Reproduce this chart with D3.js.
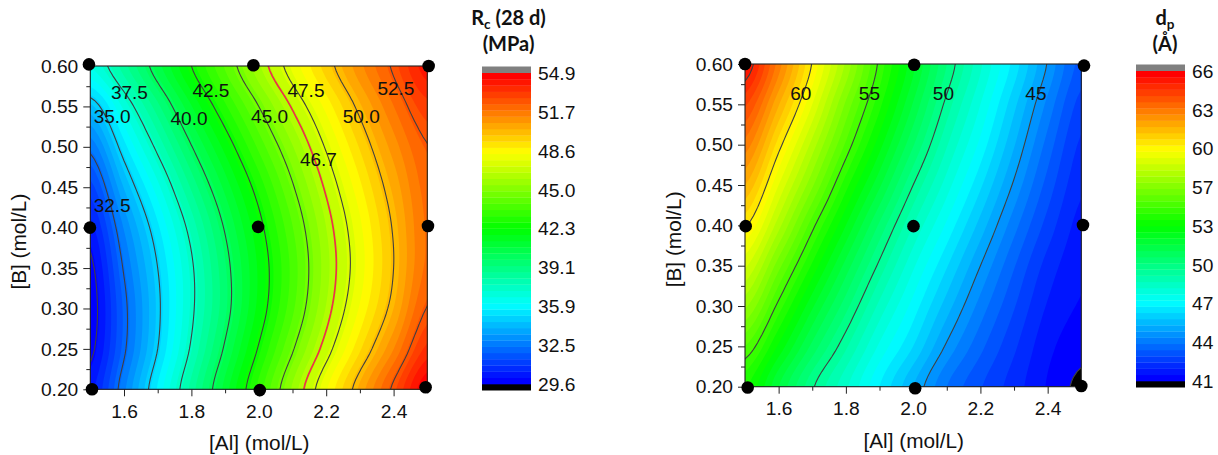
<!DOCTYPE html>
<html>
<head>
<meta charset="utf-8">
<title>Contour maps of Rc and dp</title>
<script src="https://cdn.jsdelivr.net/npm/d3@7"></script>
<style>
  html, body { margin: 0; padding: 0; background: #fff; }
  svg { display: block; }
  text { font-family: "Liberation Sans", Arial, sans-serif; fill: #111; }
  .tick-label text, .bar-label { font-size: 19.2px; }
  .axis-title { font-size: 20.8px; text-anchor: middle; }
  .bar-title { font-family: Lato, "Open Sans", sans-serif; font-weight: 700; font-size: 20px; text-anchor: middle; }
  .contour-label { font-size: 19px; text-anchor: middle; }
</style>
</head>
<body>
<svg id="chart" width="1218" height="455"></svg>
<script>
// Grid axes shared by both maps
const alValues = [1.5, 1.6, 1.7, 1.8, 1.9, 2.0, 2.1, 2.2, 2.3, 2.4, 2.5];
const bValues = [0.6, 0.55, 0.5, 0.45, 0.4, 0.35, 0.3, 0.25, 0.2];
const alTicks = [1.6, 1.8, 2.0, 2.2, 2.4];
const alMinorTicks = [1.5, 1.7, 1.9, 2.1, 2.3, 2.5];
const bTicks = [0.2, 0.25, 0.3, 0.35, 0.4, 0.45, 0.5, 0.55, 0.6];
const bMinorTicks = [0.225, 0.275, 0.325, 0.375, 0.425, 0.475, 0.525, 0.575];

// Rc (28 d), one row per B value (top of the map first)
const rcGrid = [
  [36.7, 38.5, 40.5, 42.5, 44.35, 46.2, 47.95, 49.6, 51.2, 52.65, 54.2],
  [34.5, 36.85, 39.05, 41.2, 43.15, 45.0, 46.8, 48.5, 50.25, 51.85, 53.2],
  [32.75, 35.45, 37.75, 39.95, 41.95, 43.9, 45.75, 47.6, 49.4, 51.1, 52.45],
  [31.4, 34.2, 36.5, 38.8, 40.9, 42.9, 44.9, 46.85, 48.7, 50.5, 52.1],
  [30.4, 33.2, 35.55, 37.85, 40.1, 42.2, 44.25, 46.3, 48.2, 50.1, 51.95],
  [29.8, 32.6, 35.0, 37.35, 39.65, 41.85, 43.95, 46.1, 48.05, 50.0, 52.0],
  [29.6, 32.25, 34.8, 37.3, 39.6, 41.95, 44.15, 46.35, 48.4, 50.35, 52.55],
  [29.8, 32.35, 35.0, 37.65, 40.15, 42.6, 44.9, 47.1, 49.25, 51.35, 53.55],
  [30.4, 33.0, 35.75, 38.4, 40.95, 43.45, 45.9, 48.25, 50.5, 52.7, 54.9]
];
const rcLines = [30, 32.5, 35, 37.5, 40, 42.5, 45, 47.5, 50, 52.5];
const rcRedLine = [46.7];
const rcBarLabels = ["54.9", "51.7", "48.6", "45.0", "42.3", "39.1", "35.9", "32.5", "29.6"];
const rcLabelText = ["37.5", "42.5", "47.5", "52.5", "35.0", "40.0", "45.0", "50.0", "46.7", "32.5"];
const rcLabelAl = [1.616, 1.858, 2.14, 2.407, 1.565, 1.793, 2.032, 2.304, 2.177, 1.565];
const rcLabelB = [0.568, 0.57, 0.57, 0.573, 0.538, 0.535, 0.538, 0.538, 0.485, 0.428];
const rcPointAl = [1.496, 1.984, 2.504, 1.499, 1.998, 2.502, 1.505, 2.003, 2.495];
const rcPointB = [0.602, 0.601, 0.6, 0.4, 0.401, 0.402, 0.2, 0.199, 0.2025];

// dp, same layout
const dpGrid = [
  [65.5, 62.75, 59.95, 57.4, 54.85, 52.65, 50.5, 48.6, 46.8, 44.95, 43.3],
  [64.1, 61.55, 59.0, 56.4, 54.15, 51.95, 49.8, 48.0, 46.15, 44.35, 42.8],
  [62.8, 60.25, 57.8, 55.4, 53.2, 51.05, 49.05, 47.35, 45.55, 43.8, 42.4],
  [61.5, 59.0, 56.6, 54.2, 52.1, 50.0, 48.25, 46.6, 44.9, 43.3, 42.1],
  [60.1, 57.7, 55.2, 53.0, 50.9, 49.0, 47.4, 45.8, 44.2, 42.8, 41.8],
  [58.6, 56.2, 53.9, 51.8, 49.85, 48.1, 46.55, 45.0, 43.55, 42.3, 41.6],
  [57.1, 54.8, 52.6, 50.7, 48.85, 47.3, 45.75, 44.3, 43.05, 41.95, 41.45],
  [55.5, 53.4, 51.35, 49.6, 47.9, 46.5, 44.9, 43.65, 42.6, 41.65, 41.2],
  [54.1, 52.0, 50.1, 48.6, 47.0, 45.5, 44.0, 43.05, 42.25, 41.45, 40.85]
];
const dpLines = [41, 45, 50, 55, 60, 65];
const dpBarLabels = ["66", "63", "60", "57", "53", "50", "47", "44", "41"];
const dpLabelText = ["60", "55", "50", "45"];
const dpLabelAl = [1.666, 1.87, 2.09, 2.365];
const dpLabelB = [0.564, 0.564, 0.564, 0.564];
const dpPointAl = [1.5, 2.003, 2.508, 1.502, 2.001, 2.505, 1.508, 2.006, 2.5];
const dpPointB = [0.6, 0.599, 0.598, 0.399, 0.399, 0.4004, 0.199, 0.198, 0.2008];

const BAND_COUNT = 50;
const SMOOTH_STEPS = 8;
const rainbow = d3.scaleLinear()
  .domain([0, 0.25, 0.5, 0.75, 1])
  .range(["#0000ff", "#00ffff", "#00ff00", "#ffff00", "#ff0000"]);

const svg = d3.select("#chart");

function catmull(p0, p1, p2, p3, t) {
  return 0.5 * (2 * p1 + (p2 - p0) * t + (2 * p0 - 5 * p1 + 4 * p2 - p3) * t * t + (3 * p1 - p0 - 3 * p2 + p3) * t * t * t);
}

// Catmull-Rom resampling of the read grid, only so the drawn contours are not kinked
function resample(values, k) {
  const last = values.length - 1;
  const out = [];
  for (let i = 0; i < last; i++) {
    const p0 = values[Math.max(i - 1, 0)];
    const p3 = values[Math.min(i + 2, last)];
    for (let s = 0; s < k; s++) out.push(catmull(p0, values[i], values[i + 1], p3, s / k));
  }
  out.push(values[last]);
  return out;
}

function refineGrid(grid, k) {
  const byRow = grid.map((row) => resample(row, k));
  const columns = d3.transpose(byRow).map((col) => resample(col, k));
  return d3.transpose(columns);
}

// Draws one contour map together with its colour bar
function drawMap(cfg) {
  const { frame, bar, min, max } = cfg;
  const step = (max - min) / BAND_COUNT;
  const bands = d3.range(BAND_COUNT).map((i) => ({
    low: min + i * step,
    high: min + (i + 1) * step,
    color: rainbow(i / (BAND_COUNT - 1))
  }));

  const x = d3.scaleLinear().domain([1.5, 2.5]).range([frame.left, frame.right]);
  const y = d3.scaleLinear().domain([0.2, 0.6]).range([frame.bottom, frame.top]);

  const grid = refineGrid(cfg.grid, SMOOTH_STEPS);
  const rows = grid.length;
  const cols = grid[0].length;

  // d3.contours puts grid values on cell centres, hence the half cell
  const gridX = d3.scaleLinear().domain([0.5, cols - 0.5]).range([x(alValues[0]), x(alValues[alValues.length - 1])]);
  const gridY = d3.scaleLinear().domain([0.5, rows - 0.5]).range([y(bValues[0]), y(bValues[bValues.length - 1])]);
  const path = d3.geoPath(d3.geoTransform({
    point(px, py) { this.stream.point(gridX(px), gridY(py)); }
  }));
  const contours = d3.contours().size([cols, rows]).smooth(true);
  const flat = grid.flat();

  const clipId = `clip-${cfg.id}`;
  svg.append("clipPath").attr("id", clipId).append("rect")
    .attr("x", frame.left).attr("y", frame.top)
    .attr("width", frame.right - frame.left).attr("height", frame.bottom - frame.top);

  const plot = svg.append("g").attr("clip-path", `url(#${clipId})`);

  // Below the lowest level is black
  plot.append("rect")
    .attr("x", frame.left).attr("y", frame.top)
    .attr("width", frame.right - frame.left).attr("height", frame.bottom - frame.top)
    .attr("fill", "#000");

  plot.selectAll("path.band").data(bands).join("path")
    .attr("class", "band")
    .attr("fill", (d) => d.color)
    .attr("d", (d) => path(contours.contour(flat, d.low)));

  plot.selectAll("path.line").data(cfg.lines).join("path")
    .attr("class", "line")
    .attr("fill", "none")
    .attr("stroke", "#404040")
    .attr("stroke-width", 1.1)
    .attr("d", (d) => path(contours.contour(flat, d)));

  plot.selectAll("path.red-line").data(cfg.redLines || []).join("path")
    .attr("class", "red-line")
    .attr("fill", "none")
    .attr("stroke", "#ee3148")
    .attr("stroke-width", 1.7)
    .attr("d", (d) => path(contours.contour(flat, d)));

  // Frame and axes
  svg.append("rect")
    .attr("x", frame.left).attr("y", frame.top)
    .attr("width", frame.right - frame.left).attr("height", frame.bottom - frame.top)
    .attr("fill", "none").attr("stroke", "#222").attr("stroke-width", 1.1);

  const xAxis = svg.append("g").attr("class", "tick-label")
    .attr("transform", `translate(0,${frame.bottom})`)
    .call(d3.axisBottom(x).tickValues(alTicks).tickFormat(d3.format(".1f")).tickSize(7).tickPadding(8).tickSizeOuter(0));
  const yAxis = svg.append("g").attr("class", "tick-label")
    .attr("transform", `translate(${frame.left},0)`)
    .call(d3.axisLeft(y).tickValues(bTicks).tickFormat(d3.format(".2f")).tickSize(7).tickPadding(5).tickSizeOuter(0));
  const xMinor = svg.append("g")
    .attr("transform", `translate(0,${frame.bottom})`)
    .call(d3.axisBottom(x).tickValues(alMinorTicks).tickFormat("").tickSize(4).tickSizeOuter(0));
  const yMinor = svg.append("g")
    .attr("transform", `translate(${frame.left},0)`)
    .call(d3.axisLeft(y).tickValues(bMinorTicks).tickFormat("").tickSize(4).tickSizeOuter(0));
  [xAxis, yAxis, xMinor, yMinor].forEach((g) => {
    g.select(".domain").remove();
    g.selectAll("line").attr("stroke", "#222").attr("stroke-width", 1);
    g.selectAll("text").attr("fill", "#111");
  });

  svg.append("text").attr("class", "axis-title")
    .attr("x", (frame.left + frame.right) / 2 + 0.5)
    .attr("y", cfg.xTitleY)
    .text("[Al] (mol/L)");
  svg.append("text").attr("class", "axis-title")
    .attr("transform", `translate(${cfg.yTitleX},${(frame.top + frame.bottom) / 2 + 14}) rotate(-90)`)
    .text("[B] (mol/L)");

  // Contour labels
  svg.selectAll(`text.contour-label-${cfg.id}`).data(cfg.labelText).join("text")
    .attr("class", `contour-label contour-label-${cfg.id}`)
    .attr("x", (d, i) => x(cfg.labelAl[i]))
    .attr("y", (d, i) => y(cfg.labelB[i]))
    .attr("dy", "0.36em")
    .text((d) => d);

  // Design points
  svg.selectAll(`circle.point-${cfg.id}`).data(cfg.pointAl).join("circle")
    .attr("class", `point-${cfg.id}`)
    .attr("cx", (d) => x(d))
    .attr("cy", (d, i) => y(cfg.pointB[i]))
    .attr("r", 6.3)
    .attr("fill", "#000");

  // Colour bar: gray cap above the top level, black cap below the bottom level
  const barY = d3.scaleLinear().domain([min, max]).range([bar.bottom, bar.top]);
  const barG = svg.append("g");
  barG.append("rect")
    .attr("x", bar.left).attr("y", bar.top - bar.cap)
    .attr("width", bar.width).attr("height", bar.cap)
    .attr("fill", "#808080");
  barG.append("rect")
    .attr("x", bar.left).attr("y", bar.bottom)
    .attr("width", bar.width).attr("height", bar.cap)
    .attr("fill", "#000");
  barG.selectAll("rect.bar-band").data(bands).join("rect")
    .attr("class", "bar-band")
    .attr("x", bar.left)
    .attr("y", (d) => barY(d.high))
    .attr("width", bar.width)
    .attr("height", (d) => barY(d.low) - barY(d.high) + 0.3)
    .attr("fill", (d) => d.color);

  const labelY = d3.scalePoint().domain(cfg.barLabels).range([bar.top, bar.bottom]);
  barG.selectAll("text.bar-label").data(cfg.barLabels).join("text")
    .attr("class", "bar-label")
    .attr("x", bar.left + bar.width + 7)
    .attr("y", (d) => labelY(d))
    .attr("dy", "0.36em")
    .text((d) => d);

  // Bar title
  const title = svg.append("text").attr("class", "bar-title");
  title.append("tspan").attr("x", cfg.titleX).attr("y", 25).text(cfg.titleMain);
  title.append("tspan").attr("font-size", 13.5).attr("dy", 4).text(cfg.titleSub);
  title.append("tspan").attr("dy", -4).text(cfg.titleRest);
  title.append("tspan").attr("x", cfg.titleX).attr("y", 51).text(cfg.titleUnit);
}

drawMap({
  id: "rc",
  frame: { left: 90.3, right: 427.3, top: 66, bottom: 389.3 },
  bar: { left: 482, width: 49, top: 73, bottom: 384, cap: 6.5 },
  grid: rcGrid, min: 29.6, max: 54.9,
  lines: rcLines, redLines: rcRedLine,
  barLabels: rcBarLabels,
  labelText: rcLabelText, labelAl: rcLabelAl, labelB: rcLabelB,
  pointAl: rcPointAl, pointB: rcPointB,
  xTitleY: 450, yTitleX: 26,
  titleX: 508.5,
  titleMain: "R", titleSub: "c", titleRest: " (28 d)", titleUnit: "(MPa)"
});

drawMap({
  id: "dp",
  frame: { left: 745, right: 1081.3, top: 64, bottom: 386.7 },
  bar: { left: 1136, width: 49, top: 71, bottom: 381, cap: 6.5 },
  grid: dpGrid, min: 41, max: 66,
  lines: dpLines,
  barLabels: dpBarLabels,
  labelText: dpLabelText, labelAl: dpLabelAl, labelB: dpLabelB,
  pointAl: dpPointAl, pointB: dpPointB,
  xTitleY: 448, yTitleX: 681,
  titleX: 1165,
  titleMain: "d", titleSub: "p", titleRest: "", titleUnit: "(Å)"
});
</script>
</body>
</html>
